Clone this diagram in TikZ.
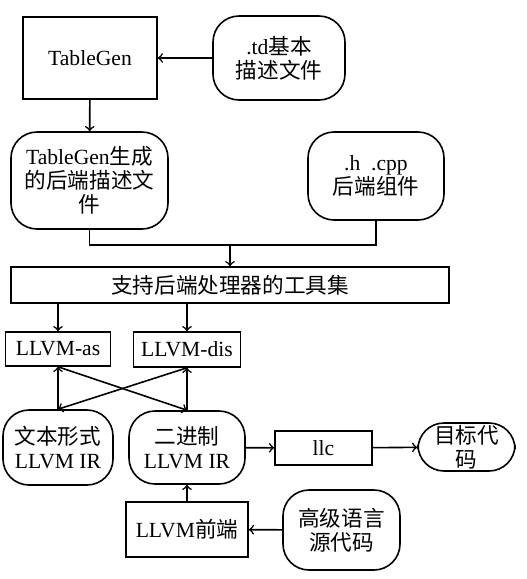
\documentclass[tikz,border=0pt]{standalone}
\usepackage{fontspec}
\setmainfont{Liberation Serif}
\newfontfamily\cjk{Noto Sans CJK SC}
\tikzset{
  box/.style={draw, line width=0.8pt, align=center, inner sep=0pt},
  roundbox/.style={box, rounded corners=13pt},
}
\begin{document}
\begin{tikzpicture}[x=0.5pt, y=-0.5pt, >=to, line width=0.8pt,
  font=\fontsize{10.8}{12}\selectfont]
\useasboundingbox (0,0) rectangle (526,579);
{\centering
\node[box, minimum width=67pt, minimum height=41pt] (tablegen) at (90, 58) {TableGen};
\node[roundbox, minimum width=66pt, minimum height=42pt] (td) at (279, 58) {.td{\cjk 基本}\\{\cjk 描述文件}};
\node[roundbox, minimum width=78.5pt, minimum height=48.5pt] (gen) at (89.5, 180.5) {TableGen{\cjk 生成}\\{\cjk 的后端描述文}\\{\cjk 件}};
\node[roundbox, minimum width=68pt, minimum height=44pt] (hcpp) at (376, 176) {.h~~.cpp\\{\cjk 后端组件}};
\coordinate (merge) at (230, 245);
\node[box, minimum width=219pt, minimum height=18pt] (tools) at (230, 285) {\cjk 支持后端处理器的工具集};

\node[box, minimum width=52.5pt, minimum height=17pt] (as) at (58, 349) {LLVM-as};
\node[box, minimum width=53.5pt, minimum height=17.5pt] (dis) at (187, 349.5) {LLVM-dis};
\node[roundbox, minimum width=55pt, minimum height=37.5pt] (textir) at (58, 447.5) {{\cjk 文本形式}\\LLVM IR};
\node[roundbox, minimum width=58pt, minimum height=36.5pt] (binir) at (187, 447.5) {{\cjk 二进制}\\LLVM IR};
\node[box, minimum width=48.5pt, minimum height=17pt] (llc) at (323.5, 448) {llc};
\node[roundbox, minimum width=48.5pt, minimum height=24pt] (target) at (466.5, 447) {{\cjk 目标代}\\{\cjk 码}};
\node[box, minimum width=61pt, minimum height=27.5pt] (front) at (187, 529.5) {LLVM{\cjk 前端}};
\node[roundbox, minimum width=58.5pt, minimum height=40pt] (source) at (341.5, 530) {{\cjk 高级语言}\\{\cjk 源代码}};

\draw[->] (td) -- (tablegen);
\draw[->] (tablegen) -- (gen);
\draw (gen.south) |- (merge) -| (hcpp.south);
\draw[->] (merge) -- (tools.north -| merge);
\draw[->] (tools.south -| as) -- (as);
\draw[->] (tools.south -| dis) -- (dis);
\draw[->] (textir.north) -- (as.south);
\draw[->] (binir.north) -- (dis.south);
\draw[->] (as.south) -- (binir.north);
\draw[->] (dis.south) -- (textir.north);
\draw[->] (binir) -- (llc);
\draw[->] (llc) -- (target);
\draw[->] (front) -- (binir);
\draw[->] (source) -- (front);
}
\end{tikzpicture}
\end{document}
